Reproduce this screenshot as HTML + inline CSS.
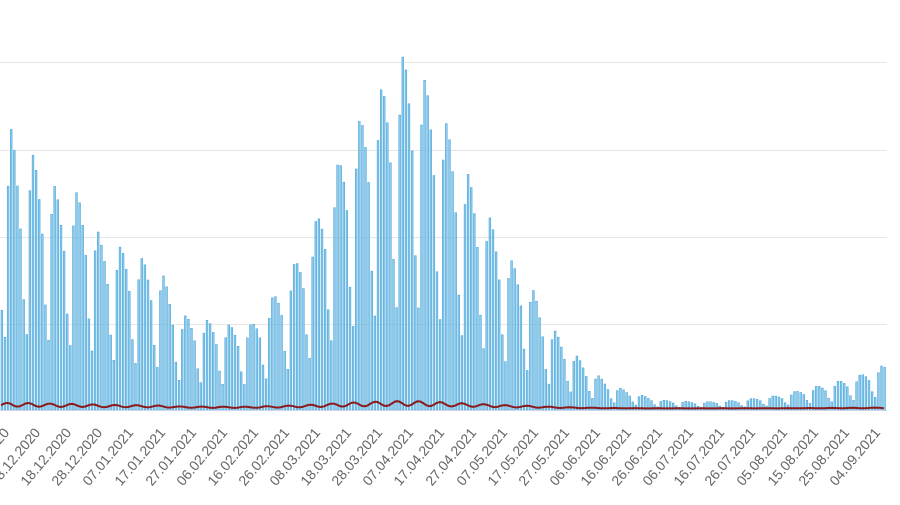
<!DOCTYPE html>
<html><head><meta charset="utf-8"><style>
html,body{margin:0;padding:0;background:#fff;width:900px;height:505px;overflow:hidden}
svg{display:block}
text{font-family:"Liberation Sans",sans-serif;font-size:14px;fill:#666}
</style></head><body>
<svg id="s" width="900" height="505" viewBox="0 0 900 505">
<g stroke="#e6e6e6" stroke-width="1">
<line x1="0" x2="887" y1="62.5" y2="62.5"/><line x1="0" x2="887" y1="150.5" y2="150.5"/>
<line x1="0" x2="887" y1="237.5" y2="237.5"/><line x1="0" x2="887" y1="324.5" y2="324.5"/>
</g>
<g id="bars"></g>
<line x1="0" x2="887" y1="410.5" y2="410.5" stroke="#ccd6eb"/>
<path id="red" fill="none" stroke="#8b1a1a" stroke-width="2"/>
<g text-anchor="end">
<text transform="translate(10,433) rotate(-50)">28.11.2020</text>
<text transform="translate(41,433) rotate(-50)">08.12.2020</text>
<text transform="translate(72,433) rotate(-50)">18.12.2020</text>
<text transform="translate(103,433) rotate(-50)">28.12.2020</text>
<text transform="translate(134,433) rotate(-50)">07.01.2021</text>
<text transform="translate(166,433) rotate(-50)">17.01.2021</text>
<text transform="translate(197,433) rotate(-50)">27.01.2021</text>
<text transform="translate(228,433) rotate(-50)">06.02.2021</text>
<text transform="translate(259,433) rotate(-50)">16.02.2021</text>
<text transform="translate(290,433) rotate(-50)">26.02.2021</text>
<text transform="translate(321,433) rotate(-50)">08.03.2021</text>
<text transform="translate(352,433) rotate(-50)">18.03.2021</text>
<text transform="translate(383,433) rotate(-50)">28.03.2021</text>
<text transform="translate(414,433) rotate(-50)">07.04.2021</text>
<text transform="translate(445,433) rotate(-50)">17.04.2021</text>
<text transform="translate(477,433) rotate(-50)">27.04.2021</text>
<text transform="translate(508,433) rotate(-50)">07.05.2021</text>
<text transform="translate(539,433) rotate(-50)">17.05.2021</text>
<text transform="translate(570,433) rotate(-50)">27.05.2021</text>
<text transform="translate(601,433) rotate(-50)">06.06.2021</text>
<text transform="translate(632,433) rotate(-50)">16.06.2021</text>
<text transform="translate(663,433) rotate(-50)">26.06.2021</text>
<text transform="translate(694,433) rotate(-50)">06.07.2021</text>
<text transform="translate(725,433) rotate(-50)">16.07.2021</text>
<text transform="translate(756,433) rotate(-50)">26.07.2021</text>
<text transform="translate(788,433) rotate(-50)">05.08.2021</text>
<text transform="translate(819,433) rotate(-50)">15.08.2021</text>
<text transform="translate(850,433) rotate(-50)">25.08.2021</text>
<text transform="translate(881,433) rotate(-50)">04.09.2021</text>
</g>
</svg>
<script>
(function(){
var env=[[0,195],[10,128],[20,170],[30,150],[40,175],[50,178],[60,200],[75,192],[90,210],[100,240],[115,245],[135,255],[160,270],[180,315],[205,320],[225,325],[250,325],[270,300],[290,270],[310,235],[330,180],[350,135],[375,95],[390,80],[402,57],[418,70],[440,110],[460,160],[485,210],[510,260],[528,280],[545,320],[570,350],[590,370],[610,385],[640,395],[660,400],[700,402],[740,400],[780,395],[800,390],[830,383],[855,377],[878,366],[887,366]];
function envTop(x){for(var i=1;i<env.length;i++){if(x<=env[i][0]){var a=env[i-1],b=env[i];return a[1]+(b[1]-a[1])*(x-a[0])/(b[0]-a[0]);}}return 400;}
var pat=[1,0.97,0.88,0.75,0.45,0.3,0.85];
var NS="http://www.w3.org/2000/svg";
var g=document.getElementById('bars');
var red='',B=410;
for(var d=0;d<290;d++){var x=1+d*3.108;if(x>886)break;
var o=((d-129)%7+7)%7;var t=envTop(x);var hh=(B-t)*pat[o];
var r=document.createElementNS(NS,'rect');
r.setAttribute('x',x.toFixed(1));r.setAttribute('y',(B-hh).toFixed(1));
r.setAttribute('width','1.8');r.setAttribute('height',hh.toFixed(1));
r.setAttribute('fill','#8ccbee');r.setAttribute('stroke','#3d9dd3');r.setAttribute('stroke-width','0.5');
g.appendChild(r);
var ry=B-1.5-(B-t)*0.018*(0.8+0.4*Math.sin(d*0.9));
red+=(d?'L':'M')+x.toFixed(1)+','+ry.toFixed(1);}
document.getElementById('red').setAttribute('d',red);
})();
</script>
</body></html>
